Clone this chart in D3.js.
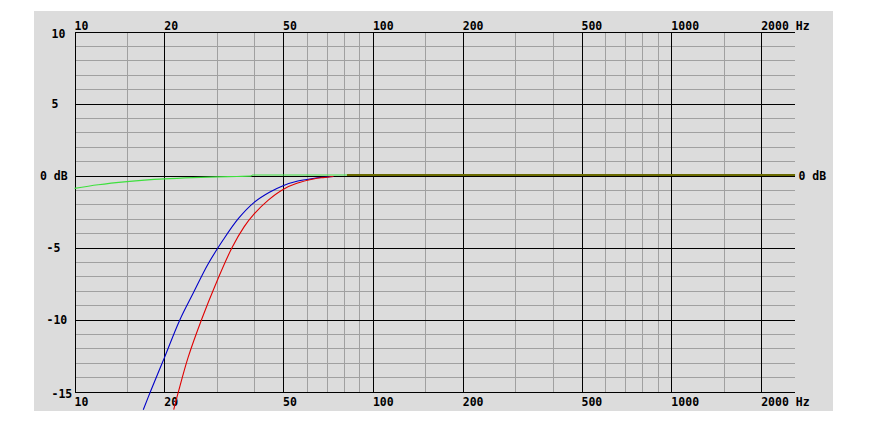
<!DOCTYPE html>
<html><head><meta charset="utf-8">
<script src="https://cdn.jsdelivr.net/npm/d3@7"></script>
<style>
html,body{margin:0;padding:0;background:#fff;}
text{font-family:"DejaVu Sans Mono",monospace;font-weight:bold;font-size:11.5px;fill:#000;}
</style></head>
<body><svg id="c" width="881" height="433"></svg>
<script>
// ---- data ----
const xMajorTicks = [10, 20, 50, 100, 200, 500, 1000, 2000];
const xMinorTicks = [15, 30, 40, 60, 70, 80, 90, 150, 300, 400, 600, 700, 800, 900, 1500];
const xTickLabels = ["10", "20", "50", "100", "200", "500", "1000", "2000 Hz"];
const yMajorTicks = [10, 5, 0, -5, -10, -15];
const yTickLabels = ["10", "5", "0 dB", "-5", "-10", "-15"];
const yMinorTicks = [9, 8, 7, 6, 4, 3, 2, 1, -1, -2, -3, -4, -6, -7, -8, -9, -11, -12, -13, -14];

const greenFreq = [10, 12, 15, 20, 25, 30, 35, 39, 39.5, 2600];
const greenDb   = [-0.93, -0.68, -0.46, -0.27, -0.18, -0.13, -0.1, -0.08, 0, 0];
const blueFreq  = [17, 18, 20, 22.5, 25, 28, 31.5, 35.5, 40, 45, 50, 56, 63, 68, 73.7];
const blueDb    = [-16.3, -15.0, -12.7, -10.1, -8.2, -6.2, -4.5, -3.0, -1.9, -1.2, -0.74, -0.42, -0.24, -0.16, -0.1];
const redFreq   = [21.5, 22.3, 24, 26.7, 29.7, 33.7, 37, 40, 44.6, 50, 55.6, 63.2, 68, 73.7];
const redDb     = [-16.3, -15.05, -12.7, -10.0, -7.6, -5.05, -3.6, -2.7, -1.74, -1.0, -0.58, -0.28, -0.18, -0.1];
const sumFreq   = [82, 2600];
const sumDb     = [0, 0];

// ---- layout ----
const svg = d3.select("#c");
const L = 74.5, R = 795, T = 31.5, B = 391.5;
const x = d3.scaleLog().domain([10, 2600]).range([L, R + 0.2]);
const y = d3.scaleLinear().domain([-15, 10]).range([B, T]);

svg.append("rect").attr("x", 34).attr("y", 11).attr("width", 799).attr("height", 400).attr("fill", "#dcdcdc");

svg.append("defs").append("clipPath").attr("id", "clip")
  .append("rect").attr("x", 34).attr("y", 11).attr("width", 799).attr("height", 400);

// minor grid
const gMinX = svg.append("g").attr("transform", `translate(0,${B})`)
  .call(d3.axisBottom(x).tickValues(xMinorTicks).tickSize(-(B - T)).tickFormat(""));
const gMinY = svg.append("g").attr("transform", `translate(${L},0)`)
  .call(d3.axisLeft(y).tickValues(yMinorTicks).tickSize(-(R - L)).tickFormat(""));
[gMinX, gMinY].forEach(g => {
  g.select(".domain").remove();
  g.selectAll("line").attr("stroke", "#a0a0a0").attr("shape-rendering", "crispEdges");
});
// major grid
const gMajX = svg.append("g").attr("transform", `translate(0,${B})`)
  .call(d3.axisBottom(x).tickValues(xMajorTicks).tickSize(-(B - T)).tickFormat(""));
const gMajY = svg.append("g").attr("transform", `translate(${L},0)`)
  .call(d3.axisLeft(y).tickValues(yMajorTicks).tickSize(-(R - L)).tickFormat(""));
[gMajX, gMajY].forEach(g => {
  g.select(".domain").remove();
  g.selectAll("line").attr("stroke", "#000").attr("shape-rendering", "crispEdges");
});

// x labels (top and bottom) via axes
const fmtX = d => xTickLabels[xMajorTicks.indexOf(d)];
const gTop = svg.append("g").attr("transform", `translate(0,${T})`)
  .call(d3.axisTop(x).tickValues(xMajorTicks).tickSize(0).tickPadding(2).tickFormat(fmtX));
const gBot = svg.append("g").attr("transform", `translate(0,${B})`)
  .call(d3.axisBottom(x).tickValues(xMajorTicks).tickSize(0).tickPadding(6).tickFormat(fmtX));
[gTop, gBot].forEach(g => {
  g.select(".domain").remove();
  g.attr("font-family", null).attr("font-size", null);
  g.selectAll("text").attr("text-anchor", "start").attr("dx", -0.5);
});

// y labels
const gY = svg.append("g");
yMajorTicks.forEach((v, i) => {
  let yy = y(v) + 4;
  if (v === 10 || v === -15) yy = y(v) + 6;
  const lab = yTickLabels[i];
  let xx = 51.5;
  if (lab === "0 dB") xx = 40;
  else if (v === -5 || v === -10) xx = 46.5;
  gY.append("text").attr("x", xx).attr("y", yy).text(lab);
});
svg.append("text").attr("x", 798.5).attr("y", y(0) + 4).text("0 dB");

// curves
const smooth = d3.line().x(d => x(d[0])).y(d => y(d[1])).curve(d3.curveCatmullRom.alpha(0.5));
const mono = d3.line().x(d => x(d[0])).y(d => y(d[1])).curve(d3.curveMonotoneX);
const zip = (a, b) => a.map((v, i) => [v, b[i]]);
const gc = svg.append("g").attr("clip-path", "url(#clip)")
  .append("g").attr("transform", "translate(0,-0.5)");
gc.append("path").datum(zip(greenFreq, greenDb)).attr("d", mono)
  .attr("fill", "none").attr("stroke", "#3ee03e").attr("stroke-width", 1.1);
gc.append("path").datum(zip(blueFreq, blueDb)).attr("d", smooth)
  .attr("fill", "none").attr("stroke", "#0000c8").attr("stroke-width", 1.1);
gc.append("path").datum(zip(redFreq, redDb)).attr("d", smooth)
  .attr("fill", "none").attr("stroke", "#e00000").attr("stroke-width", 1.1);
gc.append("path").datum(zip(sumFreq, sumDb)).attr("d", mono)
  .attr("fill", "none").attr("stroke", "#6a6a00").attr("stroke-width", 2)
  .attr("shape-rendering", "crispEdges");
</script></body></html>
